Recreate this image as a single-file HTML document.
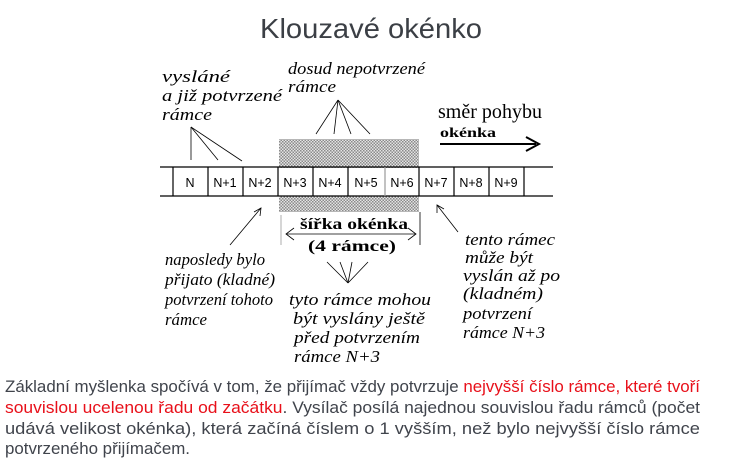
<!DOCTYPE html>
<html><head><meta charset="utf-8"><style>
html,body{margin:0;padding:0;background:#fff;width:749px;height:459px;overflow:hidden}
svg{display:block}
.lab{font-family:"Liberation Serif",serif;font-style:italic;font-size:17px;fill:#000}
.cell{font-family:"Liberation Sans",sans-serif;font-size:12.5px;fill:#000}
.p{font-family:"Liberation Sans",sans-serif;font-size:16.5px;fill:#40444c}
</style></head><body>
<svg width="749" height="459" viewBox="0 0 749 459" xmlns="http://www.w3.org/2000/svg">
<defs>
<pattern id="dots" width="3" height="3" patternUnits="userSpaceOnUse">
<rect width="3" height="3" fill="#e4e4e4"/><rect width="1.5" height="1.5" fill="#8a8a8a"/><rect x="1.5" y="1.5" width="1.5" height="1.5" fill="#8a8a8a"/>
</pattern>
</defs>
<text x="371" y="38" text-anchor="middle" font-family="Liberation Sans,sans-serif" font-size="28" fill="#3b3f45" textLength="222" lengthAdjust="spacingAndGlyphs">Klouzavé okénko</text>

<rect x="279" y="139" width="140" height="73" fill="url(#dots)"/>
<rect x="279" y="168" width="140" height="28" fill="#fff"/>
<g stroke="#000" stroke-width="1.2" fill="none">
<line x1="160" y1="167" x2="553" y2="167"/><line x1="160" y1="196" x2="553" y2="196"/>
<line x1="173" y1="167" x2="173" y2="196"/><line x1="208" y1="167" x2="208" y2="196"/>
<line x1="243" y1="167" x2="243" y2="196"/><line x1="278" y1="167" x2="278" y2="196"/>
<line x1="313" y1="167" x2="313" y2="196"/><line x1="348" y1="167" x2="348" y2="196"/>
<line x1="385" y1="167" x2="385" y2="196" stroke="#999"/><line x1="419" y1="167" x2="419" y2="196"/>
<line x1="454" y1="167" x2="454" y2="196"/><line x1="489" y1="167" x2="489" y2="196"/>
<line x1="524" y1="167" x2="524" y2="196"/>
</g>
<g class="cell" text-anchor="middle">
<text x="190" y="187">N</text><text x="225" y="187">N+1</text><text x="260" y="187">N+2</text>
<text x="295" y="187">N+3</text><text x="330" y="187">N+4</text><text x="366" y="187">N+5</text>
<text x="402" y="187">N+6</text><text x="436" y="187">N+7</text><text x="471" y="187">N+8</text><text x="506" y="187">N+9</text>
</g>
<g stroke="#000" stroke-width="0.8" fill="none">
<line x1="191" y1="127" x2="191" y2="160"/><line x1="191" y1="127" x2="218" y2="160"/><line x1="191" y1="127" x2="242" y2="161"/>
<line x1="338" y1="100" x2="316" y2="134"/><line x1="338" y1="100" x2="334" y2="134"/><line x1="338" y1="100" x2="351" y2="134"/><line x1="338" y1="100" x2="370" y2="134"/>
<line x1="230" y1="245" x2="261" y2="208"/><polyline points="254,212 261,208 260,216"/>
<line x1="458" y1="232" x2="437" y2="205"/><polyline points="437,213 437,205 444,209"/>
<line x1="327" y1="262" x2="348" y2="283"/><line x1="340" y1="262" x2="348" y2="283"/><line x1="352" y1="262" x2="348" y2="283"/><line x1="368" y1="262" x2="348" y2="283"/>
<line x1="286" y1="234" x2="416" y2="234"/><polyline points="294,228 286,234 294,240"/><polyline points="408,228 416,234 408,240"/>
<line x1="281" y1="215" x2="281" y2="245" stroke="#999"/><line x1="420" y1="212" x2="420" y2="245"/>
</g>
<line x1="440" y1="144" x2="536" y2="144" stroke="#000" stroke-width="2"/>
<polyline points="526,137 539,144 526,151" stroke="#000" stroke-width="2" fill="none"/>
<text x="438" y="118" font-family="Liberation Serif,serif" font-size="20" textLength="104" lengthAdjust="spacingAndGlyphs">směr pohybu</text>
<text x="440" y="137" font-family="Liberation Serif,serif" font-weight="bold" font-size="14" textLength="56" lengthAdjust="spacingAndGlyphs">okénka</text>
<text x="300" y="229" font-family="Liberation Serif,serif" font-weight="bold" font-size="16" textLength="108" lengthAdjust="spacingAndGlyphs">šířka okénka</text>
<text x="308" y="251" font-family="Liberation Serif,serif" font-weight="bold" font-size="16" textLength="88" lengthAdjust="spacingAndGlyphs">(4 rámce)</text>
<g class="lab">
<text x="162" y="82" textLength="68" lengthAdjust="spacingAndGlyphs">vysláné</text><text x="162" y="101" textLength="120" lengthAdjust="spacingAndGlyphs">a již potvrzené</text><text x="162" y="120" textLength="50" lengthAdjust="spacingAndGlyphs">rámce</text>
<text x="288" y="74" textLength="137" lengthAdjust="spacingAndGlyphs">dosud nepotvrzené</text><text x="288" y="92" textLength="48" lengthAdjust="spacingAndGlyphs">rámce</text>
<text x="165" y="265" textLength="100" lengthAdjust="spacingAndGlyphs">naposledy bylo</text><text x="165" y="285" textLength="110" lengthAdjust="spacingAndGlyphs">přijato (kladné)</text><text x="165" y="305" textLength="108" lengthAdjust="spacingAndGlyphs">potvrzení tohoto</text><text x="165" y="325" textLength="42" lengthAdjust="spacingAndGlyphs">rámce</text>
<text x="289" y="305" textLength="142" lengthAdjust="spacingAndGlyphs">tyto rámce mohou</text><text x="293" y="324" textLength="132" lengthAdjust="spacingAndGlyphs">být vyslány ještě</text><text x="294" y="343" textLength="126" lengthAdjust="spacingAndGlyphs">před potvrzením</text><text x="294" y="362" textLength="86" lengthAdjust="spacingAndGlyphs">rámce N+3</text>
<text x="465" y="245" textLength="90" lengthAdjust="spacingAndGlyphs">tento rámec</text><text x="465" y="263" textLength="68" lengthAdjust="spacingAndGlyphs">může být</text><text x="463" y="281" textLength="97" lengthAdjust="spacingAndGlyphs">vyslán až po</text><text x="463" y="299" textLength="80" lengthAdjust="spacingAndGlyphs">(kladném)</text><text x="463" y="319" textLength="69" lengthAdjust="spacingAndGlyphs">potvrzení</text><text x="463" y="338" textLength="82" lengthAdjust="spacingAndGlyphs">rámce N+3</text>
</g>
<g class="p">
<text x="5" y="392" textLength="695" lengthAdjust="spacingAndGlyphs">Základní myšlenka spočívá v tom, že přijímač vždy potvrzuje <tspan fill="#e8101a">nejvyšší číslo rámce, které tvoří</tspan></text>
<text x="5" y="413" textLength="695" lengthAdjust="spacingAndGlyphs"><tspan fill="#e8101a">souvislou ucelenou řadu od začátku</tspan>. Vysílač posílá najednou souvislou řadu rámců (počet</text>
<text x="5" y="434" textLength="695" lengthAdjust="spacingAndGlyphs">udává velikost okénka), která začíná číslem o 1 vyšším, než bylo nejvyšší číslo rámce</text>
<text x="5" y="454" textLength="185" lengthAdjust="spacingAndGlyphs">potvrzeného přijímačem.</text>
</g>
</svg>
</body></html>
